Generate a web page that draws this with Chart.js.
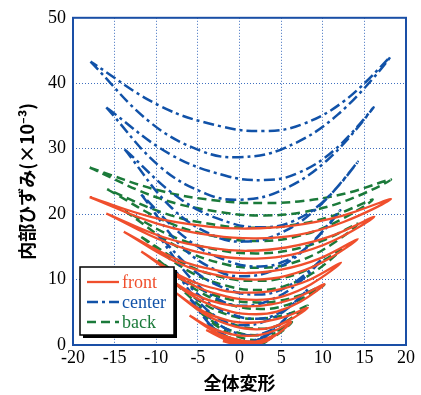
<!DOCTYPE html>
<html>
<head>
<meta charset="utf-8">
<script src="https://cdn.jsdelivr.net/npm/chart.js@4/dist/chart.umd.min.js"></script>
<style>
  html, body { margin: 0; padding: 0; background: #fff; }
  #wrap { width: 421px; height: 395px; }
</style>
</head>
<body>
<div id="wrap"><canvas id="chart"></canvas></div>
<script>
// tick values
const xTicks = [-20, -15, -10, -5, 0, 5, 10, 15, 20]
const yTicks = [0, 10, 20, 30, 40, 50]

// each loop: lower branch left tip -> right tip, then upper branch back to left tip
const frontLoops = [
  [[-18,22.6],[-10,18.6],[-3,16.7],[2,16.3],[6.9,16.8],[12.5,18.8],[18.2,22.3],
   [12.2,19.7],[6.2,18.2],[1,17.8],[-3.75,18.1],[-10.4,19.5],[-18,22.6]],
  [[-16,20.1],[-8.8,15.7],[-2.5,13.6],[2,13.2],[6.3,13.8],[11.2,15.9],[16.2,19.6],
   [10.9,16.6],[5.6,14.9],[1,14.4],[-3.25,14.8],[-9.2,16.5],[-16,20.1]],
  [[-13.9,17.3],[-7.5,12.6],[-2,10.5],[2,10],[5.7,10.6],[9.9,12.6],[14.2,16.2],
   [9.6,13.2],[5,11.5],[1,11],[-2.7,11.4],[-7.9,13.3],[-13.9,17.3]],
  [[-11.8,14.3],[-6.3,9.6],[-1.5,7.4],[2,6.9],[5.1,7.4],[8.6,9.3],[12.2,12.6],
   [8.3,9.9],[4.4,8.4],[1,8],[-2.2,8.4],[-6.7,10.3],[-11.8,14.3]],
  [[-9.8,11.3],[-5.1,7.1],[-1,5.1],[2,4.7],[4.5,5.1],[7.3,6.6],[10.2,9.3],
   [7,7.3],[3.8,6.2],[1,5.9],[-1.7,6.2],[-5.5,7.8],[-9.8,11.3]],
  [[-7.9,8.2],[-3.9,4.5],[-0.5,2.8],[2,2.4],[3.9,2.7],[6,3.8],[8.2,5.7],
   [5.7,4.4],[3.2,3.6],[1,3.4],[-1.2,3.7],[-4.3,5.1],[-7.9,8.2]],
  [[-6,4.5],[-2.8,1.9],[0,0.75],[2,0.5],[3.3,0.8],[4.7,1.8],[6.2,3.5],
   [4.4,2.3],[2.6,1.6],[1,1.4],[-0.75,1.6],[-3.2,2.5],[-6,4.5]],
  [[-4,2.3],[-1.8,0.9],[0.1,0.2],[1.5,0.1],[2.3,0.2],[3.3,0.6],[4.2,1.5],
   [3.1,0.9],[1.9,0.5],[1,0.4],[-0.25,0.5],[-2,1.1],[-4,2.3]],
  [[-2,0.6],[-0.5,0.1],[1,0],[2.2,0.4],[1,0.2],[-0.5,0.3],[-2,0.6]]
]

const centerLoops = [
  [[-17.9,43.3],[-10.7,34.0],[-4.5,29.6],[0,28.7],[5.4,30.1],[11.8,35.2],[18.1,44],
   [12.8,37.5],[7.5,33.7],[3,32.7],[-2.2,33.4],[-9.5,36.5],[-17.9,43.3]],
  [[-16,36.3],[-9.6,27.3],[-4,23.1],[0,22.2],[4.8,23.5],[10.5,28.2],[16.1,36.3],
   [11.5,29.9],[6.9,26.2],[3,25.2],[-1.75,25.9],[-8.4,29.2],[-16,36.3]],
  [[-13.8,29.9],[-8.1,20.9],[-3.1,16.7],[0.5,15.8],[4.6,16.9],[9.4,21.0],[14.2,28],
   [10.3,22.2],[6.4,18.9],[3,18],[-1.2,18.7],[-7.1,22.3],[-13.8,29.9]],
  [[-11.8,23],[-6.9,15.0],[-2.6,11.3],[0.5,10.5],[4,11.4],[8,14.8],[12.1,20.6],
   [8.7,15.6],[5.4,12.8],[2.5,12],[-1.1,12.7],[-6.1,16.0],[-11.8,23]],
  [[-9.9,17],[-5.7,10.0],[-2.1,6.7],[0.5,6],[3.4,6.7],[6.8,9.2],[10.2,13.5],
   [7.3,10.2],[4.5,8.2],[2,7.7],[-1,8.3],[-5.1,11.0],[-9.9,17]],
  [[-7.9,11.5],[-4.5,6.1],[-1.6,3.5],[0.5,3],[2.8,3.5],[5.5,5.3],[8.2,8.5],
   [6,5.9],[3.9,4.4],[2,4],[-0.5,4.5],[-4,6.7],[-7.9,11.5]],
  [[-5.9,7],[-3.3,2.8],[-1.1,0.9],[0.5,0.5],[2.2,0.9],[4.2,2.4],[6.2,5],
   [4.6,3.0],[2.9,1.8],[1.5,1.5],[-0.35,1.8],[-2.9,3.5],[-5.9,7]],
  [[-3.9,3.5],[-2.1,1.4],[-0.6,0.4],[0.5,0.1],[1.6,0.4],[2.9,1.1],[4.2,2.3],
   [3.1,1.3],[1.9,0.7],[1,0.5],[-0.2,0.7],[-1.9,1.6],[-3.9,3.5]]
]

const backLoops = [
  [[-18,27.1],[-9.6,22.4],[-2.25,20.3],[3,19.8],[7.6,20.3],[12.9,22.1],[18.2,25.3],
   [12.9,23.2],[7.6,22.0],[3,21.7],[-2.25,22.0],[-9.6,23.6],[-18,27.1]],
  [[-15.9,23.8],[-8.5,18.7],[-2.1,16.4],[2.5,15.9],[6.6,16.5],[11.3,18.6],[16,22.2],
   [11.1,19.7],[6.2,18.3],[2,17.9],[-2.5,18.3],[-8.7,20.0],[-15.9,23.8]],
  [[-13.8,20.5],[-7.3,14.9],[-1.6,12.3],[2.5,11.8],[6,12.4],[10.1,14.6],[14.2,18.5],
   [9.9,15.9],[5.7,14.4],[2,14],[-2,14.4],[-7.5,16.3],[-13.8,20.5]],
  [[-11.8,16.5],[-6.1,11.3],[-1.1,8.9],[2.5,8.4],[5.4,9.0],[8.8,11.0],[12.2,14.6],
   [8.6,11.8],[5.1,10.2],[2,9.8],[-1.5,10.2],[-6.3,12.2],[-11.8,16.5]],
  [[-9.8,13],[-4.9,8.2],[-0.6,6.0],[2.5,5.5],[4.8,5.8],[7.5,7.1],[10.2,9.2],
   [7.3,7.6],[4.5,6.7],[2,6.5],[-1,6.9],[-5.1,8.8],[-9.8,13]],
  [[-7.8,9.5],[-3.7,5.0],[-0.1,2.9],[2.5,2.5],[4.2,2.8],[6.1,4.0],[8.2,6],
   [6,4.8],[3.9,4.2],[2,4],[-0.5,4.3],[-3.9,6.0],[-7.8,9.5]],
  [[-5.8,6.3],[-2.5,2.7],[0.4,1.05],[2.5,0.7],[3.6,0.95],[4.9,1.9],[6.3,3.5],
   [4.8,2.3],[3.3,1.7],[2,1.5],[0.05,1.8],[-2.7,3.2],[-5.8,6.3]],
  [[-3.8,3.2],[-1.5,1.2],[0.6,0.3],[2,0.1],[2.7,0.2],[3.5,0.8],[4.2,1.8],
   [3.3,1.0],[2.3,0.5],[1.5,0.4],[0.2,0.6],[-1.7,1.4],[-3.8,3.2]]
]

const RED = '#f04f2d'
const BLUE = '#1152a8'
const GREEN = '#1b7a3a'
const GRID = '#3f6fbf'
const serif = '"Liberation Serif", "Times New Roman", serif'
const cjk = '"Noto Sans CJK JP", "Noto Sans", sans-serif'

// loops joined into one dataset, with a null point between loops
function toPoints(loops) {
  const out = []
  loops.forEach((loop, i) => {
    if (i) out.push({ x: loop[0][0], y: null })
    loop.forEach(p => out.push({ x: p[0], y: p[1] }))
  })
  return out
}

const frame = {
  id: 'frame',
  afterDraw(chart) {
    const { ctx, chartArea: a } = chart
    ctx.save()
    ctx.strokeStyle = '#1a4fa6'
    ctx.lineWidth = 2
    ctx.setLineDash([])
    ctx.strokeRect(a.left, a.top, a.right - a.left, a.bottom - a.top)

    // legend box with shadow
    const bx = a.left + 7, by = a.bottom - 78, bw = 94, bh = 68
    ctx.fillStyle = '#000'
    ctx.fillRect(bx + 3, by + 3, bw, bh)
    ctx.fillStyle = '#fff'
    ctx.fillRect(bx, by, bw, bh)
    ctx.strokeStyle = '#000'
    ctx.lineWidth = 1.5
    ctx.strokeRect(bx, by, bw, bh)

    ctx.font = '18px ' + serif
    ctx.textBaseline = 'middle'
    ctx.textAlign = 'left'
    chart.data.datasets.forEach((ds, i) => {
      const yy = by + 15 + i * 20
      ctx.strokeStyle = ds.borderColor
      ctx.lineWidth = ds.borderWidth
      ctx.setLineDash(ds.borderDash || [])
      ctx.beginPath()
      ctx.moveTo(bx + 7, yy)
      ctx.lineTo(bx + 39, yy)
      ctx.stroke()
      ctx.fillStyle = ds.borderColor
      ctx.fillText(ds.label, bx + 42, yy + 1)
    })
    ctx.restore()
  }
}

new Chart(document.getElementById('chart'), {
  type: 'scatter',
  data: {
    datasets: [
      {
        label: 'front',
        data: toPoints(frontLoops),
        borderColor: RED,
        borderWidth: 2.3,
        showLine: true,
        tension: 0.4,
        spanGaps: false,
        pointRadius: 0
      },
      {
        label: 'center',
        data: toPoints(centerLoops),
        borderColor: BLUE,
        borderWidth: 2.5,
        borderDash: [11, 4, 3, 4],
        showLine: true,
        tension: 0.4,
        spanGaps: false,
        pointRadius: 0
      },
      {
        label: 'back',
        data: toPoints(backLoops),
        borderColor: GREEN,
        borderWidth: 2.5,
        borderDash: [9, 5],
        showLine: true,
        tension: 0.4,
        spanGaps: false,
        pointRadius: 0
      }
    ]
  },
  options: {
    responsive: true,
    maintainAspectRatio: false,
    animation: false,
    layout: { padding: { top: 13, right: 15, left: 0, bottom: 0 } },
    plugins: {
      legend: { display: false },
      tooltip: { enabled: false }
    },
    scales: {
      x: {
        type: 'linear',
        min: -20,
        max: 20,
        afterBuildTicks: s => { s.ticks = xTicks.map(v => ({ value: v })) },
        afterFit: s => { s.height = 50 },
        grid: { color: GRID, lineWidth: 1, drawTicks: false },
        border: { display: false, dash: [1, 2] },
        ticks: {
          color: '#000',
          font: { family: serif, size: 18 },
          padding: 2,
          maxRotation: 0,
          callback: v => String(v)
        },
        title: {
          display: true,
          text: '全体変形',
          color: '#000',
          font: { family: cjk, size: 18, weight: 'bold' },
          padding: { top: 0, bottom: 1 }
        }
      },
      y: {
        type: 'linear',
        min: 0,
        max: 50,
        afterBuildTicks: s => { s.ticks = yTicks.map(v => ({ value: v })) },
        afterFit: s => { s.width = 73 },
        grid: { color: GRID, lineWidth: 1, drawTicks: false },
        border: { display: false, dash: [1, 2] },
        ticks: {
          color: '#000',
          font: { family: serif, size: 18 },
          padding: 7,
          callback: v => String(v)
        },
        title: {
          display: true,
          text: '内部ひずみ(×10⁻³)',
          color: '#000',
          font: { family: cjk, size: 18, weight: 'bold' },
          padding: { top: 16, bottom: 0 }
        }
      }
    }
  },
  plugins: [frame]
})
</script>
</body>
</html>
